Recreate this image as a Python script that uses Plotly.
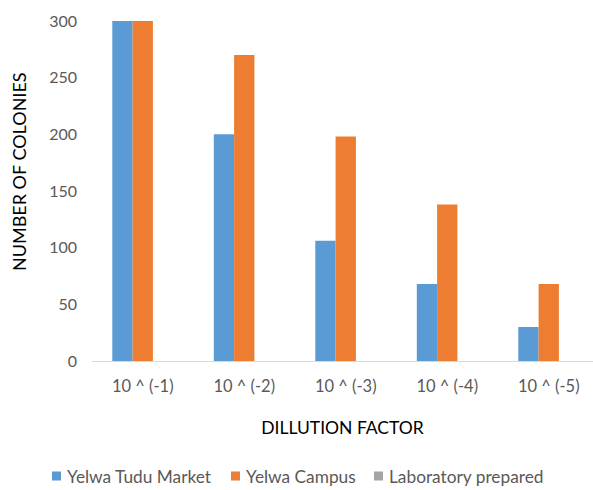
import plotly.graph_objects as go

# Colony counts per dilution
dilutions = ["10 ^ (-1)", "10 ^ (-2)", "10 ^ (-3)", "10 ^ (-4)", "10 ^ (-5)"]
yelwa_tudu_market = [300, 200, 106, 68, 30]
yelwa_campus = [300, 270, 198, 138, 68]
laboratory_prepared = [0, 0, 0, 0, 0]

series_names = ["Yelwa Tudu Market", "Yelwa Campus", "Laboratory prepared"]
series_values = [yelwa_tudu_market, yelwa_campus, laboratory_prepared]
series_colors = ["#5B9BD5", "#ED7D31", "#A5A5A5"]

FONT = "Lato"
GREY_TEXT = "#595959"

W, H = 593, 490
L, R, T, B = 92, 0, 21, 129
PW, PH = W - L - R, H - T - B


def px_x(px):
    return (px - L) / PW


def px_y(py):
    return (H - B - py) / PH


fig = go.Figure()
for name, vals, col in zip(series_names, series_values, series_colors):
    fig.add_trace(go.Bar(
        x=dilutions, y=vals, name=name,
        marker=dict(color=col, line=dict(width=0)),
        showlegend=False,
    ))

# legend row: small square swatch followed by the series name
legend_left = [52, 231, 374]
legend_y = 476
for name, col, lx in zip(series_names, series_colors, legend_left):
    fig.add_shape(
        type="rect", xref="paper", yref="paper",
        x0=px_x(lx), x1=px_x(lx + 9),
        y0=px_y(legend_y + 4.5), y1=px_y(legend_y - 4.5),
        fillcolor=col, line=dict(width=0),
    )
    fig.add_annotation(
        text=name, xref="paper", yref="paper",
        x=px_x(lx + 13), y=px_y(legend_y), xanchor="left", yanchor="middle",
        showarrow=False, font=dict(family=FONT, size=17.3, color=GREY_TEXT),
    )

# vertical axis title
fig.add_annotation(
    text="NUMBER OF COLONIES", xref="paper", yref="paper",
    x=px_x(19), y=px_y(172), xanchor="center", yanchor="middle",
    textangle=-90, showarrow=False,
    font=dict(family=FONT, size=18, color="black"),
)

fig.update_layout(
    width=W, height=H,
    margin=dict(l=L, r=R, t=T, b=B),
    paper_bgcolor="white", plot_bgcolor="white",
    barmode="group", bargap=0.4, bargroupgap=0,
    font=dict(family=FONT, size=16, color=GREY_TEXT),
    xaxis=dict(
        range=[-0.5, 4.436],
        showgrid=False, showline=True, linecolor="#D9D9D9", linewidth=1,
        ticks="", tickfont=dict(size=16.5, color=GREY_TEXT),
        ticklabelstandoff=10,
        title=dict(text="DILLUTION FACTOR", font=dict(size=17.5, color="black"), standoff=26),
    ),
    yaxis=dict(
        range=[0, 300], dtick=50,
        showgrid=False, zeroline=False, showline=False, ticks="",
        tickfont=dict(size=16, color=GREY_TEXT), ticklabelstandoff=14,
    ),
    showlegend=False,
)

fig.write_html("out.html")
